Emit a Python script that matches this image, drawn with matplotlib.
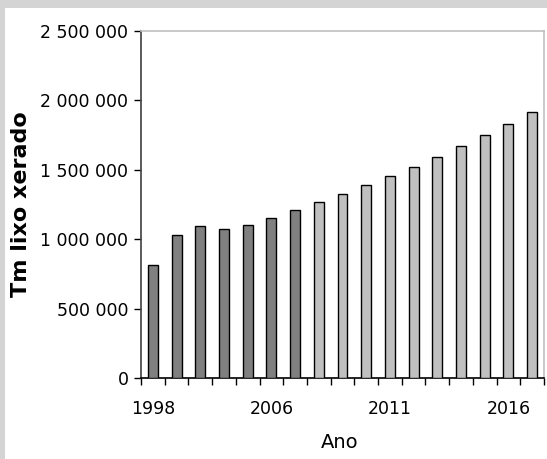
import matplotlib
matplotlib.use("Agg")
import matplotlib.pyplot as plt
from matplotlib.patches import Rectangle
from matplotlib.ticker import FuncFormatter, FixedLocator

# Data
years = ["1998", "2000", "2002", "2003", "2004", "2006", "2007", "2008", "2009",
         "2010", "2011", "2012", "2013", "2014", "2015", "2016", "2017"]
values = [815000, 1032000, 1095000, 1071000, 1100000, 1153000, 1208000,
          1266000, 1328000, 1388000, 1453000, 1522000, 1594000, 1669000,
          1748000, 1832000, 1919000]
n_observed = 7  # first bars (dark) are observed data, rest are projections
shown_labels = ["1998", "2006", "2011", "2016"]
y_ticks = [0, 500000, 1000000, 1500000, 2000000, 2500000]

W, H = 547, 459
fig = plt.figure(figsize=(W / 100, H / 100), dpi=100)
fig.patch.set_facecolor("white")
# grey band on top and left
fig.patches.append(Rectangle((0, 1 - 8 / H), 1, 8 / H, transform=fig.transFigure,
                             facecolor="#d4d4d4", edgecolor="none", zorder=0))
fig.patches.append(Rectangle((0, 0), 5 / W, 1, transform=fig.transFigure,
                             facecolor="#d4d4d4", edgecolor="none", zorder=0))

ax = fig.add_axes([141 / W, 1 - 378 / H, 403 / W, (378 - 31) / H])
x = list(range(len(years)))
colors = ["#808080" if i < n_observed else "#c0c0c0" for i in x]
ax.bar(x, values, width=0.42, color=colors, edgecolor="black", linewidth=1.0, zorder=3)

ax.set_xlim(-0.5, len(years) - 0.5)
ax.set_ylim(0, 2500000)

ax.set_yticks(y_ticks)
ax.yaxis.set_major_formatter(FuncFormatter(lambda v, p: f"{int(v):,}".replace(",", " ")))

label_pos = [years.index(l) for l in shown_labels]
ax.set_xticks(label_pos)
ax.set_xticklabels(shown_labels)
ax.xaxis.set_minor_locator(FixedLocator([i - 0.5 for i in range(len(years) + 1)]))
ax.tick_params(axis="x", which="major", length=0, pad=16, labelsize=12.5)
ax.tick_params(axis="x", which="minor", length=5, width=1, direction="out", color="black")
ax.tick_params(axis="y", length=5, width=1, direction="out", labelsize=12.5, pad=4)

for s in ["top", "right"]:
    ax.spines[s].set_color("#c0c0c0")
    ax.spines[s].set_linewidth(1.2)
ax.spines["left"].set_color("#404040")
ax.spines["left"].set_linewidth(1.2)
ax.spines["bottom"].set_color("black")
ax.spines["bottom"].set_linewidth(1.2)

ax.set_xlabel("Ano", fontsize=14)
ax.xaxis.set_label_coords((340 - 141) / 403, -(443 - 378) / 347)
ax.xaxis.label.set_va("center")
ax.set_ylabel("Tm lixo xerado", fontsize=16, fontweight="bold")
ax.yaxis.set_label_coords(-(141 - 21) / 403, 0.5)
ax.yaxis.label.set_va("center")

fig.savefig("out.png", dpi=100, facecolor=fig.get_facecolor())
